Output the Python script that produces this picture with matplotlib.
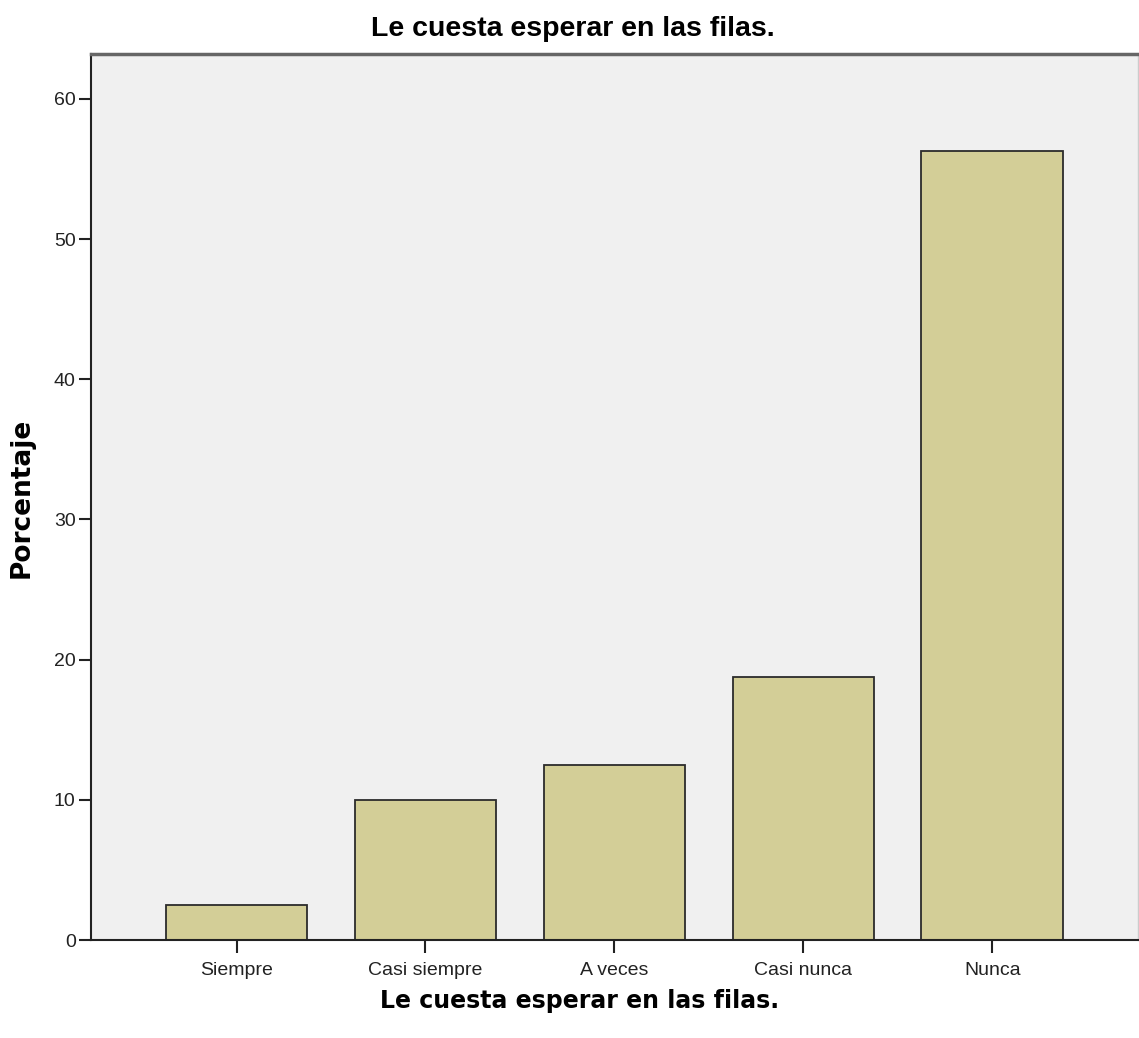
import matplotlib.pyplot as plt
import numpy as np

plt.rcParams['font.family'] = ['Liberation Sans', 'DejaVu Sans']

categorias = ["Siempre", "Casi siempre", "A veces", "Casi nunca", "Nunca"]
porcentaje = [2.5, 10.0, 12.5, 18.75, 56.25]
y_ticks = [0, 10, 20, 30, 40, 50, 60]

titulo = "Le cuesta esperar en las filas."

fig = plt.figure(figsize=(11.39, 10.38), dpi=100)
ax = fig.add_axes([0.0799, 0.0944, 0.9191, 0.8536])
ax.set_facecolor('#f0f0f0')

x = np.arange(len(categorias))
ax.bar(x, porcentaje, width=0.75, color='#d3ce97', edgecolor='#2b2b2b', linewidth=1.3, zorder=2)

ax.set_xlim(-0.77, len(categorias) - 1 + 0.77)
ax.set_ylim(0, 63.2)
ax.set_yticks(y_ticks)
ax.set_xticks(x)
ax.set_xticklabels(categorias)
ax.tick_params(axis='both', direction='out', length=9, width=1.5, colors='#222222', labelsize=14)
ax.tick_params(axis='x', pad=7)
ax.tick_params(axis='y', pad=2)

for side in ['left', 'bottom']:
    ax.spines[side].set_color('#222222')
    ax.spines[side].set_linewidth(1.5)
ax.spines['top'].set_color('#666666')
ax.spines['top'].set_linewidth(2.5)
ax.spines['right'].set_color('#cccccc')
ax.spines['right'].set_linewidth(1)

# titulo arriba (Arial) y etiquetas de eje (mas anchas)
fig.text(0.503, 0.972, titulo, ha='center', va='center', fontsize=20.5, fontweight='bold')
fig.text(0.509, 0.036, titulo, ha='center', va='center', fontsize=17,
         fontweight='bold', family='DejaVu Sans')
fig.text(0.0193, 0.52, "Porcentaje", ha='center', va='center', rotation=90,
         fontsize=19, fontweight='bold', family='DejaVu Sans')

fig.savefig('out.png', dpi=100)
